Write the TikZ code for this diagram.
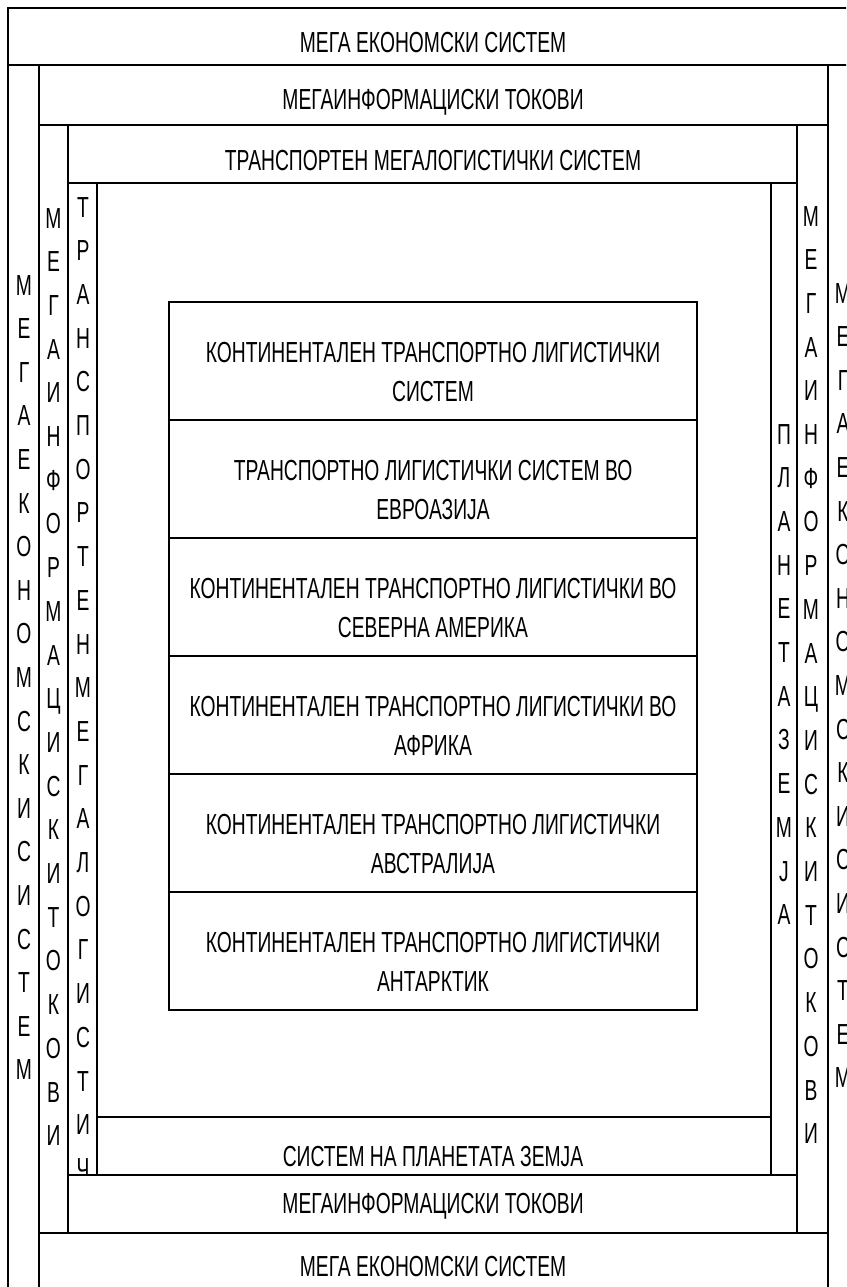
\documentclass[tikz,border=0pt]{standalone}
\usepackage{fontspec}
\newfontfamily\narrowsans{Liberation Sans}[FakeStretch=0.665]
\usetikzlibrary{positioning}

\begin{document}
\begin{tikzpicture}[x=1pt, y=-1pt,
  hline/.style={line width=2.8pt, line cap=rect},
  vline/.style={line width=1.9pt},
  txt/.style={font=\narrowsans\fontsize{29}{39}\selectfont, inner sep=0pt, anchor=base},
  colchar/.style={txt}
]
\useasboundingbox (0,0) rectangle (846,1287);
\fill[white] (0,0) rectangle (846,1287);
\clip (0,0) rectangle (846,1287);

% mega economic system frame
\draw[vline] (8,8) -- (8,1300);
\draw[hline] (8,8) -- (870,8);
\draw[hline] (8,65) -- (870,65);
\draw[hline] (39,1233) -- (828,1233);
\node[txt] (ecoTop) at (433,53) {МЕГА ЕКОНОМСКИ СИСТЕМ};
\node[txt] (ecoBot) at (433,1276) {МЕГА ЕКОНОМСКИ СИСТЕМ};
\foreach \ch [count=\i from 0] in {М,Е,Г,А,Е,К,О,Н,О,М,С,К,И,С,И,С,Т,Е,М}{
  \node[colchar] (ecoL\i) at (24,{295+\i*43.6}) {\ch};
  \node[colchar] (ecoR\i) at (843,{303+\i*43.6}) {\ch};
}

% mega information flows frame
\draw[vline] (39,65) -- (39,1300);
\draw[vline] (828,65) -- (828,1300);
\draw[hline] (39,125) -- (828,125);
\draw[vline] (68,125) -- (68,1233);
\draw[vline] (797,125) -- (797,1233);
\draw[hline] (68,1175) -- (797,1175);
\node[txt] (infoTop) at (433,110) {МЕГАИНФОРМАЦИСКИ ТОКОВИ};
\node[txt] (infoBot) at (433,1213) {МЕГАИНФОРМАЦИСКИ ТОКОВИ};
\foreach \ch [count=\i from 0] in {М,Е,Г,А,И,Н,Ф,О,Р,М,А,Ц,И,С,К,И,Т,О,К,О,В,И}{
  \node[colchar] (infoL\i) at (53.5,{228+\i*43.7}) {\ch};
  \node[colchar] (infoR\i) at (811,{226+\i*43.7}) {\ch};
}

% transport megalogistic frame
\draw[hline] (68,183) -- (797,183);
\draw[vline] (97,183) -- (97,1175);
\draw[vline] (771,183) -- (771,1175);
\draw[hline] (97,1117) -- (771,1117);
\node[txt] (trTop) at (433,170) {ТРАНСПОРТЕН МЕГАЛОГИСТИЧКИ СИСТЕМ};
\begin{scope}
  \clip (68,183) rectangle (97,1175);
  \foreach \ch [count=\i from 0] in {Т,Р,А,Н,С,П,О,Р,Т,Е,Н,М,Е,Г,А,Л,О,Г,И,С,Т,И,Ч}{
    \node[colchar] (trL\i) at (83,{217+\i*43.7}) {\ch};
  }
\end{scope}

% planet earth
\node[txt] (earthBot) at (433,1166) {СИСТЕМ НА ПЛАНЕТАТА ЗЕМЈА};
\foreach \ch [count=\i from 0] in {П,Л,А,Н,Е,Т,А,З,Е,М,Ј,А}{
  \node[colchar] (earthR\i) at (784,{444+\i*43.7}) {\ch};
}

% continental boxes
\draw[vline] (169,302) -- (169,1010);
\draw[vline] (697,302) -- (697,1010);
\foreach \k in {0,...,6}{
  \draw[hline] (169,{302+\k*118}) -- (697,{302+\k*118});
}
\foreach \k/\lineA/\lineB in {
  0/{КОНТИНЕНТАЛЕН ТРАНСПОРТНО ЛИГИСТИЧКИ}/{СИСТЕМ},
  1/{ТРАНСПОРТНО ЛИГИСТИЧКИ СИСТЕМ ВО}/{ЕВРОАЗИЈА},
  2/{КОНТИНЕНТАЛЕН ТРАНСПОРТНО ЛИГИСТИЧКИ ВО}/{СЕВЕРНА АМЕРИКА},
  3/{КОНТИНЕНТАЛЕН ТРАНСПОРТНО ЛИГИСТИЧКИ ВО}/{АФРИКА},
  4/{КОНТИНЕНТАЛЕН ТРАНСПОРТНО ЛИГИСТИЧКИ}/{АВСТРАЛИЈА},
  5/{КОНТИНЕНТАЛЕН ТРАНСПОРТНО ЛИГИСТИЧКИ}/{АНТАРКТИК}
}{
  \node[txt] (rowA\k) at (433,{302+\k*118+60}) {\lineA};
  \node[txt] (rowB\k) at (433,{302+\k*118+99}) {\lineB};
}
\end{tikzpicture}
\end{document}
